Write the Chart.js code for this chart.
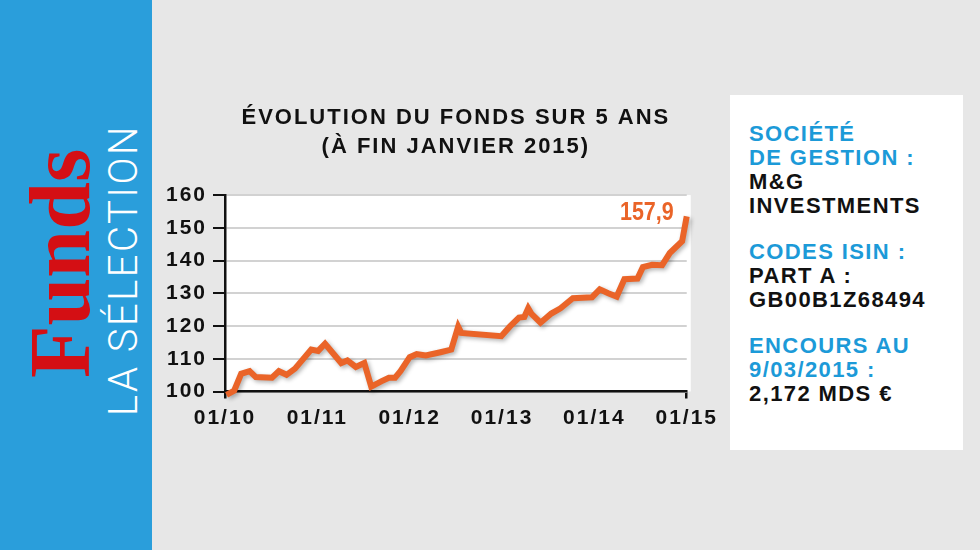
<!DOCTYPE html>
<html lang="fr">
<head>
<meta charset="utf-8">
<script src="https://cdn.jsdelivr.net/npm/chart.js@4"></script>
<style>
  html, body { margin: 0; padding: 0; }
  body { width: 980px; height: 550px; background: #e7e7e7; position: relative; overflow: hidden; font-family: "Liberation Sans", Arial, sans-serif; }
  .side { position: absolute; left: 0; top: 0; width: 152px; height: 550px; background: #2a9edb; }
  .funds { position: absolute; left: 87px; top: 378px; transform-origin: 0 0; transform: rotate(-90deg);
    font-family: "Liberation Serif", "DejaVu Serif", serif; font-weight: bold; font-size: 86px; color: #d40f14;
    line-height: 1; white-space: nowrap; }
  .sel { position: absolute; left: 133px; top: 416px; transform-origin: 0 0; transform: rotate(-90deg);
    font-family: Roboto, "Liberation Sans", sans-serif; font-weight: 300; font-size: 40px; letter-spacing: 2.5px; color: #fff;
    line-height: 1; white-space: nowrap; }
  #wrap { position: absolute; left: 160px; top: 90px; width: 560px; height: 360px; }
  .info { position: absolute; left: 730px; top: 95px; width: 233px; height: 355px; background: #fff; box-sizing: border-box;
    padding: 27px 0 0 19px; font-weight: bold; font-size: 22px; letter-spacing: 1.4px; line-height: 24px; color: #111; }
  .info .b { color: #1c9ad8; }
  .info p { margin: 0 0 22px 0; }
</style>
</head>
<body>
<div class="side"></div>
<div class="funds"><span style="position:relative;top:-70px">Funds</span></div>
<div class="sel"><span style="position:relative;top:-29px">LA SÉLECTION</span></div>
<div id="wrap"><canvas id="c" width="560" height="360"></canvas></div>
<div class="info">
  <p><span class="b">SOCIÉTÉ<br>DE GESTION :</span><br>M&amp;G<br>INVESTMENTS</p>
  <p><span class="b">CODES ISIN :</span><br>PART A :<br>GB00B1Z68494</p>
  <p><span class="b">ENCOURS AU<br>9/03/2015 :</span><br>2,172 MDS €</p>
</div>
<script>
// months since 01/2010 and fund value (base 100)
const months = [0.2, 1.2, 2.1, 3.2, 4.0, 6.1, 7.0, 8.0, 9.1, 11.2, 12.1, 13.0, 15.1, 15.9, 17.0, 18.1, 19.0, 20.3, 21.3, 22.1,
  22.8, 24.0, 24.9, 26.1, 28.0, 29.4, 30.3, 30.7, 35.9, 37.0, 38.2, 38.9, 39.4, 39.8, 41.0, 42.4, 43.6, 45.2, 47.7, 48.7,
  49.8, 50.9, 51.9, 53.6, 54.3, 55.5, 56.8, 57.8, 59.4, 60]
const values = [99, 100.3, 105.4, 106.2, 104.4, 104.2, 106.2, 105.1, 107, 112.8, 112.4, 114.6, 108.7, 109.5, 107.5, 108.7, 101.5, 103.1, 104.2, 104.2,
  106.2, 110.5, 111.4, 111, 112, 112.8, 119.8, 117.9, 116.9, 119.8, 122.6, 122.8, 125.4, 123.8, 121, 123.8, 125.4, 128.5, 128.8, 131.2,
  130, 129, 134.3, 134.5, 138, 138.7, 138.6, 142.3, 145.9, 153.5]
const tickLabels = ["01/10", "01/11", "01/12", "01/13", "01/14", "01/15"]
const lastLabel = "157,9"
const titleLines = ["ÉVOLUTION DU FONDS SUR 5 ANS", "(À FIN JANVIER 2015)"]

const orange = "#ea6428"

Chart.defaults.font.family = "'Liberation Sans', Arial, sans-serif"
Chart.defaults.color = "#111"

// white plot area + the wider letter spacing of the original typeface
const plotBg = {
  id: "plotBg",
  beforeDraw(chart) {
    const { ctx, chartArea: a } = chart
    ctx.save()
    ctx.fillStyle = "#fff"
    ctx.fillRect(a.left, a.top, a.right - a.left + 4, a.bottom - a.top)
    ctx.restore()
    ctx.letterSpacing = "2px"
  }
}

const lineShadow = {
  id: "lineShadow",
  beforeDatasetsDraw(chart) {
    const ctx = chart.ctx
    ctx.save()
    ctx.shadowColor = "rgba(0,0,0,0.3)"
    ctx.shadowBlur = 4
    ctx.shadowOffsetX = 2
    ctx.shadowOffsetY = 2
  },
  afterDatasetsDraw(chart) {
    chart.ctx.restore()
  }
}

const endLabel = {
  id: "endLabel",
  afterDatasetsDraw(chart) {
    const { ctx, scales } = chart
    const i = values.length - 1
    const x = scales.x.getPixelForValue(months[i])
    const y = scales.y.getPixelForValue(values[i])
    ctx.save()
    ctx.letterSpacing = "0px"
    ctx.font = "bold 25px 'Liberation Sans', sans-serif"
    ctx.fillStyle = orange
    ctx.textAlign = "right"
    ctx.textBaseline = "middle"
    ctx.translate(x - 13, y - 3)
    ctx.scale(0.86, 1)
    ctx.fillText(lastLabel, 0, 0)
    ctx.restore()
  }
}

new Chart(document.getElementById("c"), {
  type: "line",
  data: {
    datasets: [{
      data: months.map((m, i) => ({ x: m, y: values[i] })),
      borderColor: orange,
      borderWidth: 6,
      pointRadius: 0,
      tension: 0,
      clip: false
    }]
  },
  plugins: [plotBg, lineShadow, endLabel],
  options: {
    responsive: false,
    animation: false,
    layout: { padding: { left: 0, right: 32, top: 0, bottom: 0 } },
    plugins: {
      legend: { display: false },
      tooltip: { enabled: false },
      title: {
        display: true,
        fullSize: false,
        text: titleLines,
        font: { size: 22, weight: "bold", lineHeight: 1.32 },
        color: "#111",
        padding: { top: 13, bottom: 34 }
      }
    },
    scales: {
      x: {
        type: "linear",
        min: 0,
        max: 60,
        afterFit(scale) { scale.height = 58.5 },
        border: { color: "#111", width: 2.5 },
        grid: {
          drawOnChartArea: false,
          tickLength: 7,
          lineWidth: 2.5,
          tickColor: (c) => (c.index === 0 || c.index === tickLabels.length - 1) ? "#111" : "rgba(0,0,0,0)"
        },
        ticks: {
          stepSize: 12,
          padding: 7,
          maxRotation: 0,
          font: { size: 21, weight: "bold" },
          callback: (v) => tickLabels[v / 12]
        }
      },
      y: {
        min: 100,
        max: 160,
        afterFit(scale) { scale.width = 65 },
        border: { color: "#111", width: 2.5 },
        grid: {
          color: "#d2d2d2",
          lineWidth: 2,
          tickColor: "#111",
          tickLength: 12
        },
        ticks: {
          stepSize: 10,
          padding: 6,
          font: { size: 21, weight: "bold" }
        }
      }
    }
  }
})
</script>
</body>
</html>
